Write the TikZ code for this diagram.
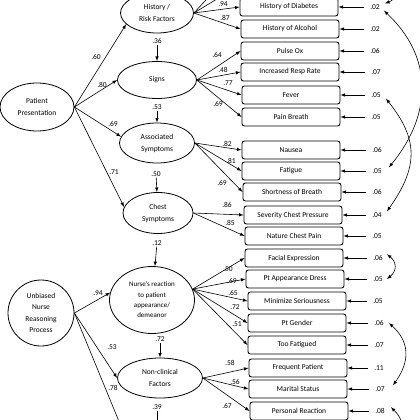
\documentclass[tikz,border=0pt]{standalone}
\usepackage{fontspec}
\setmainfont{Carlito}
\usepackage{tikz}
\usetikzlibrary{shapes}

\tikzset{
  latent/.style={ellipse, draw, line width=0.8pt, inner sep=0pt, align=center, font=\fontsize{7.5}{12}\selectfont},
  obs/.style={rectangle, rounded corners=2.5pt, draw, line width=0.9pt, minimum width=98pt, minimum height=18pt, inner sep=0pt, font=\fontsize{7.5}{9}\selectfont},
  num/.style={inner sep=1pt, font=\fontsize{7.5}{9}\selectfont},
  load/.style={-latex, line width=0.6pt},
  errarr/.style={-latex, line width=0.6pt, shorten <=5pt},
  cov/.style={line width=0.6pt}
}

\begin{document}
\begin{tikzpicture}[x=1pt, y=-1pt]
\useasboundingbox (0,0) rectangle (420,420);
\clip (0,0) rectangle (420,420);

% latent variables
\node (pp) at (37,107) [latent, minimum width=74pt, minimum height=48pt] {Patient\\Presentation};
\node (unb) at (41,313) [latent, minimum width=66pt, minimum height=66pt, font=\fontsize{7.5}{11.5}\selectfont] {Unbiased\\Nurse\\Reasoning\\Process};
\node (hist) at (157,13) [latent, minimum width=73pt, minimum height=40pt] {History /\\Risk Factors};
\node (signs) at (157,80) [latent, minimum width=79pt, minimum height=37pt] {Signs};
\node (assoc) at (157,143) [latent, minimum width=75pt, minimum height=40pt] {Associated\\Symptoms};
\node (chest) at (158,213) [latent, minimum width=70pt, minimum height=41pt] {Chest\\Symptoms};
\node (nurse) at (152,300) [latent, minimum width=85pt, minimum height=67pt, font=\fontsize{7}{10.3}\selectfont] {Nurse's reaction\\to patient\\appearance/\\demeanor};
\node (nonclin) at (160,378) [latent, minimum width=85pt, minimum height=40pt] {Non-clinical\\Factors};

% residuals of latent variables
\node (r36) at (157,41) [num] {.36};
\node (r53) at (157,107) [num] {.53};
\node (r50) at (156,174) [num] {.50};
\node (r12) at (157,243) [num] {.12};
\node (r72) at (160,339) [num] {.72};
\node (r39) at (157,407) [num] {.39};
\coordinate (nextlat) at (157,432);
\draw[load] (r36) -- (signs);
\draw[load] (r53) -- (assoc);
\draw[load] (r50) -- (chest);
\draw[load] (r12) -- (nurse);
\draw[load] (r72) -- (nonclin);
\draw[load] (r39) -- (nextlat);

% structural paths
\draw[load] (pp.east) -- (hist.200);
\draw[load] (pp.east) -- (signs.west);
\draw[load] (pp.east) -- (assoc.170);
\draw[load] (pp.east) -- (chest.170);
\node[num] at (96,57) {.60};
\node[num] at (102,85) {.80};
\node[num] at (113,124) {.69};
\node[num] at (114,172) {.71};

\coordinate (nextleft) at (125,436);
\draw[load] (unb.east) -- (nurse.170);
\draw[load] (unb.east) -- (nonclin.west);
\draw[line width=0.6pt] (unb.east) -- (nextleft);
\node[num] at (98,293) {.94};
\node[num] at (112,347) {.53};
\node[num] at (113,388) {.78};

% observed indicators
\node (diab) at (289,7) [obs] {History of Diabetes};
\node (alc) at (290,29) [obs] {History of Alcohol};
\node (pulse) at (290,51) [obs] {Pulse Ox};
\node (resp) at (290,72) [obs] {Increased Resp Rate};
\node (fever) at (291,95) [obs] {Fever};
\node (pain) at (291,117) [obs] {Pain Breath};
\node (naus) at (291,150) [obs] {Nausea};
\node (fatig) at (291,171) [obs] {Fatigue};
\node (sob) at (292,192) [obs] {Shortness of Breath};
\node (sev) at (293,215) [obs] {Severity Chest Pressure};
\node (nat) at (294,236) [obs] {Nature Chest Pain};
\node (face) at (294,258) [obs] {Facial Expression};
\node (appear) at (295,279) [obs] {Pt Appearance Dress};
\node (minim) at (297,301) [obs] {Minimize Seriousness};
\node (gend) at (297,323) [obs] {Pt Gender};
\node (toofat) at (297,345) [obs] {Too Fatigued};
\node (freq) at (298,368) [obs] {Frequent Patient};
\node (marit) at (298,389) [obs] {Marital Status};
\node (pers) at (299,411) [obs] {Personal Reaction};

% loadings: history
\coordinate (histup1) at (240,-15);
\coordinate (histup2) at (240,-37);
\draw[load] (hist.east) -- (histup1);
\draw[load] (hist.east) -- (histup2);
\draw[load] (hist.east) -- (diab.west);
\draw[load] (hist.east) -- (alc.west);
\node[num] at (223,4) {.94};
\node[num] at (225,18) {.87};

% loadings: signs
\draw[load] (signs.east) -- (pulse.west);
\draw[load] (signs.east) -- (resp.west);
\draw[load] (signs.east) -- (fever.west);
\draw[load] (signs.east) -- (pain.west);
\node[num] at (217,55) {.64};
\node[num] at (223,70) {.48};
\node[num] at (228,83) {.77};
\node[num] at (218,104) {.69};

% loadings: associated symptoms
\draw[load] (assoc.east) -- (naus.west);
\draw[load] (assoc.east) -- (fatig.west);
\draw[load] (assoc.east) -- (sob.west);
\node[num] at (227,144) {.82};
\node[num] at (231,161) {.81};
\node[num] at (222,183) {.69};

% loadings: chest symptoms
\draw[load] (chest.east) -- (sev.west);
\draw[load] (chest.east) -- (nat.west);
\node[num] at (227,205) {.86};
\node[num] at (230,223) {.85};

% loadings: nurse's reaction
\draw[load] (nurse.15) -- (face.west);
\draw[load] (nurse.15) -- (appear.west);
\draw[load] (nurse.15) -- (minim.west);
\draw[load] (nurse.15) -- (gend.west);
\draw[load] (nurse.15) -- (toofat.west);
\node[num] at (228,269) {.50};
\node[num] at (232,281) {.69};
\node[num] at (233,293) {.65};
\node[num] at (235,307) {.72};
\node[num] at (237,324) {.51};

% loadings: non-clinical
\draw[load] (nonclin.east) -- (freq.west);
\draw[load] (nonclin.east) -- (marit.west);
\draw[load] (nonclin.east) -- (pers.west);
\node[num] at (230,363) {.58};
\node[num] at (235,382) {.56};
\node[num] at (227,406) {.67};

% error variances
\node (ediab) at (375,7) [num] {.02};
\node (ealc) at (375,29) [num] {.02};
\node (epulse) at (375,51) [num] {.06};
\node (eresp) at (376,72) [num] {.07};
\node (efever) at (376,95) [num] {.05};
\node (epain) at (376,117) [num] {.05};
\node (enaus) at (377,150) [num] {.06};
\node (efatig) at (377,171) [num] {.05};
\node (esob) at (377,192) [num] {.06};
\node (esev) at (377,215) [num] {.04};
\node (enat) at (377,236) [num] {.05};
\node (eface) at (378,258) [num] {.06};
\node (eappear) at (378,279) [num] {.05};
\node (emin) at (378,301) [num] {.05};
\node (egend) at (379,323) [num] {.06};
\node (etoofat) at (379,345) [num] {.07};
\node (efreq) at (379,368) [num] {.11};
\node (emarit) at (380,389) [num] {.07};
\node (epers) at (380,411) [num] {.08};
\draw[errarr] (ediab.west) -- (diab.east);
\draw[errarr] (ealc.west) -- (alc.east);
\draw[errarr] (epulse.west) -- (pulse.east);
\draw[errarr] (eresp.west) -- (resp.east);
\draw[errarr] (efever.west) -- (fever.east);
\draw[errarr] (epain.west) -- (pain.east);
\draw[errarr] (enaus.west) -- (naus.east);
\draw[errarr] (efatig.west) -- (fatig.east);
\draw[errarr] (esob.west) -- (sob.east);
\draw[errarr] (esev.west) -- (sev.east);
\draw[errarr] (enat.west) -- (nat.east);
\draw[errarr] (eface.west) -- (face.east);
\draw[errarr] (eappear.west) -- (appear.east);
\draw[errarr] (emin.west) -- (minim.east);
\draw[errarr] (egend.west) -- (gend.east);
\draw[errarr] (etoofat.west) -- (toofat.east);
\draw[errarr] (efreq.west) -- (freq.east);
\draw[errarr] (emarit.west) -- (marit.east);
\draw[errarr] (epers.west) -- (pers.east);

% correlated errors
\coordinate (ctop) at (394,-5);
\coordinate (cbot) at (404,432);
\draw[cov, -latex] (ctop) .. controls (392,1) .. ([xshift=4pt]ediab.north east);
\draw[cov, latex-latex] ([xshift=3pt]ediab.south east) .. controls +(48,45) and +(45,-55) .. ([xshift=6pt]efatig.north east);
\draw[cov, latex-latex] ([xshift=4pt]efever.south east) .. controls +(32,40) and +(32,-45) .. ([xshift=4pt]esev.north east);
\draw[cov, latex-latex] ([xshift=3pt]eface.north east) .. controls +(10,8) and +(10,-8) .. ([xshift=3pt]eappear.east);
\draw[cov, latex-latex] ([xshift=4pt]egend.east) .. controls +(20,18) and +(18,-25) .. ([xshift=7pt]emarit.north east);
\draw[cov, -latex] (cbot) .. controls +(-2,-14) and +(6,6) .. ([xshift=5pt]epers.north east);

\end{tikzpicture}
\end{document}
